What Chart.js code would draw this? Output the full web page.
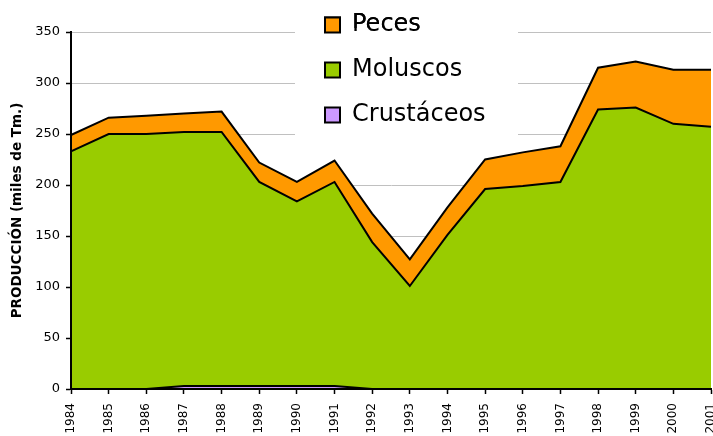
<!DOCTYPE html>
<html lang="es">
<head>
<meta charset="utf-8">
<title>Producción</title>
<script src="https://cdn.jsdelivr.net/npm/chart.js@4.4.1/dist/chart.umd.min.js"></script>
<style>
  html, body { margin: 0; padding: 0; background: #fff; }
  #grafico { display: block; }
</style>
</head>
<body>
<canvas id="grafico" width="713" height="436"></canvas>
<script>
// Datos (miles de Tm.)
const anios = ['1984', '1985', '1986', '1987', '1988', '1989', '1990', '1991', '1992',
               '1993', '1994', '1995', '1996', '1997', '1998', '1999', '2000', '2001'];
const crustaceos = [0, 0, 0, 3, 3, 3, 3, 3, 0, 0, 0, 0, 0, 0, 0, 0, 0, 0];
const moluscos = [233, 250, 250, 249, 249, 200, 181, 200, 144, 101, 151, 196, 199, 203, 274, 276, 260, 257];
const peces = [16, 16, 18, 18, 20, 19, 19, 21, 28, 26, 27, 29, 33, 35, 41, 45, 53, 56];
const ticksY = [0, 50, 100, 150, 200, 250, 300, 350];

Chart.defaults.font.family = '"DejaVu Sans", Verdana, sans-serif';
Chart.defaults.color = '#000';

// Coloca la leyenda dentro del área y le pone fondo blanco sobre las líneas de la cuadrícula
const leyendaFondo = {
    id: 'leyendaFondo',
    afterLayout(chart) {
        const ley = chart.legend;
        ley.left = 304;
        ley.top = -8;
        ley.right = 560;
        ley.bottom = 200;
        ley.width = ley.right - ley.left;
        ley.height = ley.bottom - ley.top;
    },
    beforeDatasetsDraw(chart) {
        const ctx = chart.ctx;
        ctx.save();
        ctx.fillStyle = '#fff';
        ctx.fillRect(295, 28, 223, 112);
        ctx.restore();
        chart.legend.draw();
    }
};

const ctx = document.getElementById('grafico').getContext('2d');
const grafico = new Chart(ctx, {
    type: 'line',
    data: {
        labels: anios,
        datasets: [{
            label: 'Crustáceos',
            data: crustaceos,
            backgroundColor: '#CC99FF',
            borderColor: '#000',
            borderWidth: 2,
            fill: 'origin'
        }, {
            label: 'Moluscos',
            data: moluscos,
            backgroundColor: '#99CC00',
            borderColor: '#000',
            borderWidth: 2,
            fill: '-1'
        }, {
            label: 'Peces',
            data: peces,
            backgroundColor: '#FF9900',
            borderColor: '#000',
            borderWidth: 2,
            fill: '-1'
        }]
    },
    options: {
        responsive: false,
        animation: false,
        events: [],
        elements: {
            point: { radius: 0 },
            line: { tension: 0 }
        },
        layout: {
            padding: { left: 0, top: 32, right: 2, bottom: 0 }
        },
        plugins: {
            tooltip: { enabled: false },
            legend: {
                position: 'chartArea',
                align: 'start',
                reverse: true,
                labels: {
                    boxWidth: 15,
                    boxHeight: 15,
                    padding: 21,
                    color: '#000',
                    font: { size: 24 }
                }
            }
        },
        scales: {
            x: {
                offset: false,
                grid: {
                    drawOnChartArea: false,
                    tickLength: 5,
                    tickColor: '#000',
                    tickWidth: 1.5
                },
                border: { color: '#000', width: 2, z: 1 },
                ticks: {
                    autoSkip: false,
                    minRotation: 90,
                    maxRotation: 90,
                    padding: 9,
                    font: { size: 12 }
                },
                afterFit(scale) {
                    scale.height = 47;
                    scale.paddingLeft = 0;
                    scale.paddingRight = 0;
                }
            },
            y: {
                stacked: true,
                min: ticksY[0],
                max: ticksY[ticksY.length - 1],
                grid: {
                    color: '#c0c0c0',
                    lineWidth: 1,
                    tickLength: 5,
                    tickColor: '#000',
                    tickWidth: 1.5
                },
                border: { color: '#000', width: 2, z: 1 },
                ticks: {
                    stepSize: ticksY[1] - ticksY[0],
                    padding: 6,
                    font: { size: 13 }
                },
                title: {
                    display: true,
                    text: 'PRODUCCIÓN (miles de Tm.)',
                    color: '#000',
                    padding: { top: 9, bottom: 0 },
                    font: { size: 13.5, weight: 'bold' }
                },
                afterFit(scale) {
                    scale.width = 71;
                }
            }
        }
    },
    plugins: [leyendaFondo]
});
</script>
</body>
</html>
